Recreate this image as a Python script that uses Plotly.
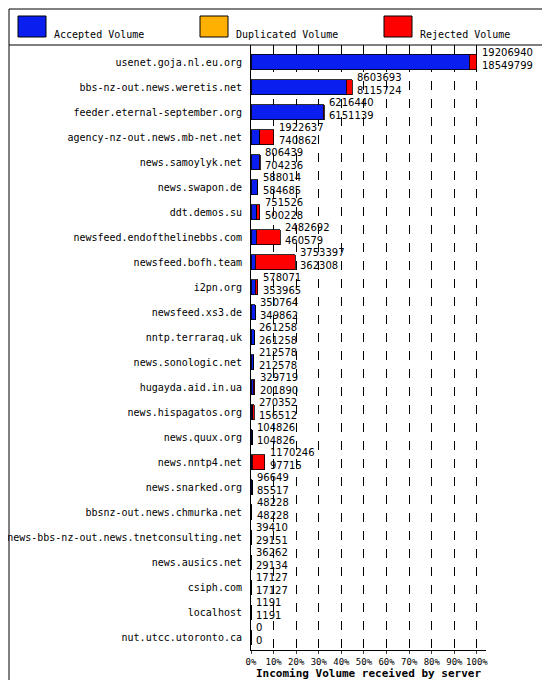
import plotly.graph_objects as go

servers = ["usenet.goja.nl.eu.org","bbs-nz-out.news.weretis.net","feeder.eternal-september.org",
"agency-nz-out.news.mb-net.net","news.samoylyk.net","news.swapon.de","ddt.demos.su",
"newsfeed.endofthelinebbs.com","newsfeed.bofh.team","i2pn.org","newsfeed.xs3.de",
"nntp.terraraq.uk","news.sonologic.net","hugayda.aid.in.ua","news.hispagatos.org",
"news.quux.org","news.nntp4.net","news.snarked.org","bbsnz-out.news.chmurka.net",
"news-bbs-nz-out.news.tnetconsulting.net","news.ausics.net","csiph.com","localhost",
"nut.utcc.utoronto.ca"]
total = [19206940,8603693,6216440,1922637,806439,588014,751526,2482692,3753397,578071,350764,
261258,212578,329719,270352,104826,1170246,96649,48228,39410,36262,17127,1191,0]
accepted = [18549799,8115724,6151139,740862,704236,584685,500228,460579,362308,353965,349862,
261258,212578,201890,156512,104826,97715,85517,48228,29151,29134,17127,1191,0]
duplicated = [0]*len(servers)
legend_names = ["Accepted Volume", "Duplicated Volume", "Rejected Volume"]
colors = ["#0a1ef0", "#ffb000", "#ff0000"]

mx = max(total)
acc_pct = [a/mx*100 for a in accepted]
rej_pct = [(t-a)/mx*100 for t, a in zip(total, accepted)]
dup_pct = [d/mx*100 for d in duplicated]

L, R, T, B = 243, 72, 37, 38
PW, PH = 550 - L - R, 680 - T - B
def px(x): return (x - L) / PW
def py(y): return (680 - B - y) / PH

fig = go.Figure()
for vals, nm, c in zip([acc_pct, dup_pct, rej_pct], legend_names, colors):
    fig.add_bar(y=servers, x=vals, orientation="h", name=nm, showlegend=False,
                marker=dict(color=c, line=dict(color="#000000", width=0.8)), width=0.6)

for s, t, a in zip(servers, total, accepted):
    fig.add_annotation(x=t/mx*100, y=s, text=f"{t}<br>{a}", showarrow=False,
                       xanchor="left", xshift=3, yshift=3, align="left",
                       font=dict(size=10, color="black", family="DejaVu Sans"))

# manual legend
for i, (nm, c) in enumerate(zip(legend_names, colors)):
    x0 = [10, 192, 376][i]
    fig.add_shape(type="rect", xref="paper", yref="paper", x0=px(x0), x1=px(x0 + 28),
                  y0=py(29), y1=py(8), fillcolor=c, line=dict(color="black", width=1))
    fig.add_annotation(xref="paper", yref="paper", x=px(x0 + 34), y=py(19), text=nm,
                       showarrow=False, xanchor="left", font=dict(size=10))

fig.add_shape(type="rect", xref="paper", yref="paper", x0=px(1), x1=px(548), y0=py(678), y1=py(1),
              line=dict(color="black", width=1))
fig.add_shape(type="line", xref="paper", yref="paper", x0=px(1), x1=px(548), y0=1, y1=1,
              line=dict(color="black", width=1))

fig.update_layout(
    width=550, height=680, barmode="stack", plot_bgcolor="white", paper_bgcolor="white",
    margin=dict(l=L, r=R, t=T, b=B), showlegend=False,
    font=dict(family="DejaVu Sans Mono", size=10, color="black"),
    xaxis=dict(range=[0, 104], tickvals=list(range(0, 101, 10)), automargin=False,
               ticktext=[f"{v}%" for v in range(0, 101, 10)], showgrid=True, tickangle=0,
               tickfont=dict(size=9),
               gridcolor="black", griddash="dash", gridwidth=1, showline=True,
               linecolor="black", ticks="outside", ticklen=3,
               title=dict(text="<b>Incoming Volume received by server</b>", standoff=0,
                          font=dict(size=11))),
    yaxis=dict(categoryorder="array", categoryarray=servers[::-1], showline=True,
               automargin=False, linecolor="black", ticks="", showgrid=False, ticksuffix=" "),
)
fig.write_html("out.html")
